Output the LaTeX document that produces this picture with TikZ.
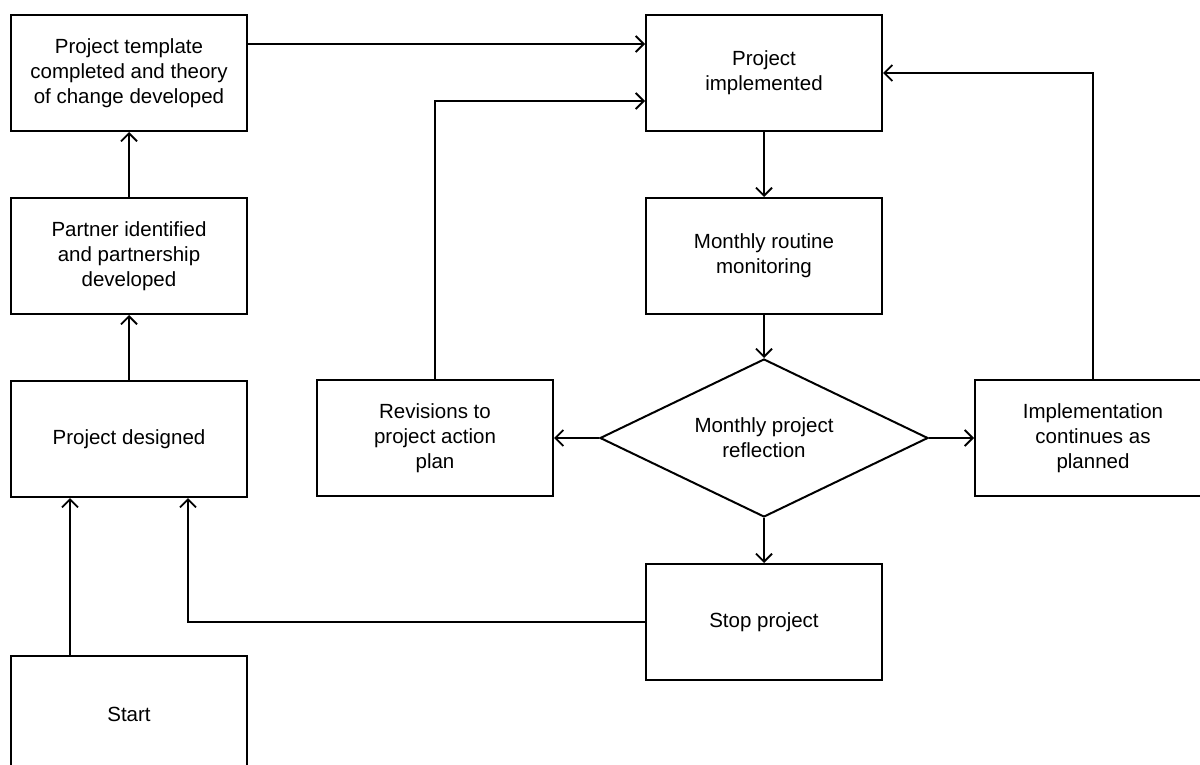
\documentclass[tikz,border=0pt]{standalone}
\usepackage{fontspec}
\setmainfont{Liberation Sans}
\usetikzlibrary{shapes.geometric,arrows.meta}
\begin{document}
\begin{tikzpicture}[x=1pt,y=-1pt,
  every node/.style={font=\fontsize{20.5}{25}\selectfont, align=center},
  box/.style={draw, line width=2pt, minimum width=236pt, minimum height=116pt, inner sep=0pt, fill=white},
  decision/.style={draw, line width=2pt, shape=diamond, aspect=2.08, minimum width=328pt, minimum height=158pt, inner sep=0pt},
  arr/.style={line width=2pt, -{Straight Barb[length=8pt,width=16pt,line width=1.8pt]}}]
\useasboundingbox (0,0) rectangle (1200,765);
\clip (0,0) rectangle (1200,765);
\fill[white] (0,0) rectangle (1200,765);
\node[box] (A) at (129,73) {Project template\\completed and theory\\of change developed};
\node[box] (B) at (129,256) {Partner identified\\and partnership\\developed};
\node[box] (C) at (129,439) {Project designed};
\node[box] (S) at (129,714) {Start};
\node[box] (D) at (764,73) {Project\\implemented};
\node[box] (E) at (764,256) {Monthly routine\\monitoring};
\node[decision] (R) at (764,438) {Monthly project\\reflection};
\node[box] (F) at (435,438) {Revisions to\\project action\\plan};
\node[box] (G) at (1093,438) {Implementation\\continues as\\planned};
\node[box] (H) at (764,622) {Stop project};
\draw[arr] ([yshift=29pt]A.east) -- ([yshift=29pt]D.west);
\draw[arr] (F.north) |- ([yshift=-28pt]D.west);
\draw[arr] (G.north) |- (D.east);
\draw[arr] (D.south) -- (E.north);
\draw[arr] (E.south) -- (R.north);
\draw[arr] (R.west) -- (F.east);
\draw[arr] (R.east) -- (G.west);
\draw[arr] (R.south) -- (H.north);
\draw[arr] (H.west) -| ([xshift=59pt]C.south);
\draw[arr] ([xshift=-59pt]S.north) -- ([xshift=-59pt]C.south);
\draw[arr] (C.north) -- (B.south);
\draw[arr] (B.north) -- (A.south);
\end{tikzpicture}
\end{document}
